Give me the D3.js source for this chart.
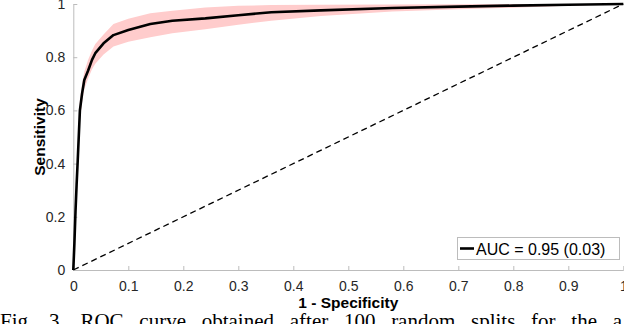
<!DOCTYPE html>
<html><head><meta charset="utf-8">
<script src="https://cdn.jsdelivr.net/npm/d3@7"></script>
<style>body{margin:0;background:#fff;overflow:hidden}svg{display:block}</style>
</head><body>
<svg id="c" width="624" height="324"></svg>
<script>
const fpr   = [0, 0.002, 0.004, 0.006, 0.008, 0.012, 0.016, 0.02, 0.027, 0.034, 0.04, 0.055, 0.073, 0.1, 0.14, 0.18, 0.24, 0.3, 0.36, 0.45, 0.58, 0.7, 0.8, 0.9, 1.0];
const tpr   = [0, 0.1, 0.22, 0.32, 0.41, 0.60, 0.664, 0.714, 0.75, 0.79, 0.815, 0.852, 0.883, 0.902, 0.925, 0.937, 0.946, 0.958, 0.969, 0.976, 0.985, 0.99, 0.994, 0.997, 1.0];
const upper = [0, 0.14, 0.27, 0.37, 0.46, 0.64, 0.70, 0.745, 0.79, 0.825, 0.85, 0.885, 0.925, 0.945, 0.965, 0.975, 0.987, 0.993, 0.996, 0.997, 0.998, 0.999, 1.0, 1.0, 1.0];
const lower = [0, 0.06, 0.17, 0.28, 0.37, 0.56, 0.63, 0.68, 0.72, 0.755, 0.775, 0.81, 0.84, 0.858, 0.875, 0.89, 0.905, 0.922, 0.937, 0.955, 0.972, 0.98, 0.986, 0.993, 1.0];
const xTicks = [0, 0.1, 0.2, 0.3, 0.4, 0.5, 0.6, 0.7, 0.8, 0.9, 1];
const yTicks = [0, 0.2, 0.4, 0.6, 0.8, 1];
const legendLabel = "AUC = 0.95 (0.03)";
const xLabel = "1 - Specificity";
const yLabel = "Sensitivity";
const caption = ["Fig.", "3.", "ROC", "curve", "obtained", "after", "100", "random", "splits", "for", "the", "a"];

const svg = d3.select("#c");
const L = 73.3, R = 623.3, T = 4, B = 270;
const x = d3.scaleLinear().domain([0, 1]).range([L, R]);
const y = d3.scaleLinear().domain([0, 1]).range([B, T]);
const FONT = "'Liberation Sans', Arial, Helvetica, sans-serif";
const AX = "#bcbcbc";

const pts = fpr.map((f, i) => ({f, t: tpr[i], u: upper[i], l: lower[i]}));

// band
svg.append("path").datum(pts)
  .attr("fill", "#ffcccc")
  .attr("d", d3.area().x(d => x(d.f)).y0(d => y(d.l)).y1(d => y(d.u)));

// axes
const xAxis = d3.axisBottom(x).tickValues(xTicks).tickSizeInner(-4).tickSizeOuter(0).tickPadding(11)
  .tickFormat(d => d3.format("~g")(d));
const yAxis = d3.axisLeft(y).tickValues(yTicks).tickSizeInner(-4).tickSizeOuter(0).tickPadding(8)
  .tickFormat(d => d3.format("~g")(d));
const gx = svg.append("g").attr("transform", `translate(0,${B})`).call(xAxis);
const gy = svg.append("g").attr("transform", `translate(${L},0)`).call(yAxis);
[gx, gy].forEach(g => {
  g.select(".domain").attr("stroke", AX).attr("stroke-width", 1);
  g.selectAll(".tick line").attr("stroke", AX);
  g.selectAll(".tick text").attr("fill", "#262626").attr("font-family", FONT).attr("font-size", 14);
});
gx.selectAll(".tick text").attr("dy", "0.71em");

// diagonal
svg.append("line")
  .attr("x1", x(0)).attr("y1", y(0)).attr("x2", x(1)).attr("y2", y(1))
  .attr("stroke", "#000").attr("stroke-width", 1.3).attr("stroke-dasharray", "6,4");

// ROC curve
svg.append("path").datum(pts)
  .attr("fill", "none").attr("stroke", "#000").attr("stroke-width", 2.6).attr("stroke-linejoin", "round")
  .attr("d", d3.line().x(d => x(d.f)).y(d => y(d.t)));

// labels
svg.append("text").attr("x", (L + R) / 2).attr("y", 307.5).attr("text-anchor", "middle")
  .attr("font-family", FONT).attr("font-weight", "bold").attr("font-size", 15.5).attr("fill", "#000").text(xLabel);
svg.append("text").attr("transform", `translate(45,${(T + B) / 2}) rotate(-90)`).attr("text-anchor", "middle")
  .attr("font-family", FONT).attr("font-weight", "bold").attr("font-size", 15.5).attr("fill", "#000").text(yLabel);

// legend
const lg = svg.append("g");
lg.append("rect").attr("x", 457.5).attr("y", 237.5).attr("width", 162).attr("height", 22)
  .attr("fill", "#fff").attr("stroke", AX).attr("stroke-width", 1);
lg.append("line").attr("x1", 460).attr("x2", 474).attr("y1", 248.5).attr("y2", 248.5)
  .attr("stroke", "#000").attr("stroke-width", 2.6);
lg.append("text").attr("x", 476).attr("y", 254.5).attr("font-family", FONT).attr("font-size", 16)
  .attr("fill", "#000").text(legendLabel);

// caption (justified line, clipped by page)
const cap = svg.append("text").attr("y", 327.5).attr("font-family", "'Liberation Serif', 'Times New Roman', serif")
  .attr("font-size", 21).attr("fill", "#000");
const spans = cap.selectAll("tspan").data(caption).join("tspan").text(d => d);
const widths = [];
spans.each(function() { widths.push(this.getComputedTextLength()); });
const lineW = 622;
const gap = (lineW - d3.sum(widths)) / (caption.length - 1);
let cx = 0;
spans.attr("x", (d, i) => { const v = cx; cx += widths[i] + gap; return v; });
</script>
</body></html>
